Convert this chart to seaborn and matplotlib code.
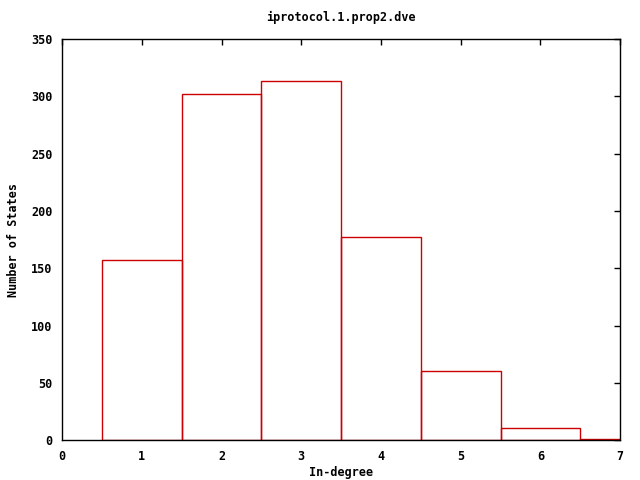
import seaborn as sns
import pandas as pd
import matplotlib.pyplot as plt

degree = [1, 2, 3, 4, 5, 6, 7]
states = [157, 302, 313, 177, 60, 11, 1]

df = pd.DataFrame({'degree': degree, 'states': states})

sns.set_style("white")
plt.rcParams['font.family'] = ['DejaVu Sans Mono']
plt.rcParams['font.weight'] = 'bold'
plt.rcParams['font.size'] = 8
plt.rcParams['text.color'] = 'black'
plt.rcParams['axes.labelcolor'] = 'black'
plt.rcParams['xtick.color'] = 'black'
plt.rcParams['ytick.color'] = 'black'

fig = plt.figure(figsize=(6.4, 4.8), dpi=100)
ax = fig.add_axes([0.097, 0.083, 0.872, 0.836])

sns.histplot(df, x='degree', weights='states', discrete=True, fill=False,
             color='#cc0000', linewidth=1, ax=ax)

ax.set_xlim(0, 7)
ax.set_ylim(0, 350)
ax.set_xticks(range(0, 8))
ax.set_yticks(range(0, 351, 50))
ax.tick_params(direction='in', length=4, width=1, top=True, right=True,
               labelsize=8.5, pad=7)
for s in ax.spines.values():
    s.set_linewidth(1)
    s.set_color('black')
ax.set_xlabel('In-degree', fontsize=8.5, fontweight='bold', labelpad=2)
ax.set_ylabel('Number of States', fontsize=8.5, fontweight='bold', labelpad=8)
ax.set_title('iprotocol.1.prop2.dve', fontsize=8.5, fontweight='bold', pad=13)

fig.savefig('out.png', dpi=100)
